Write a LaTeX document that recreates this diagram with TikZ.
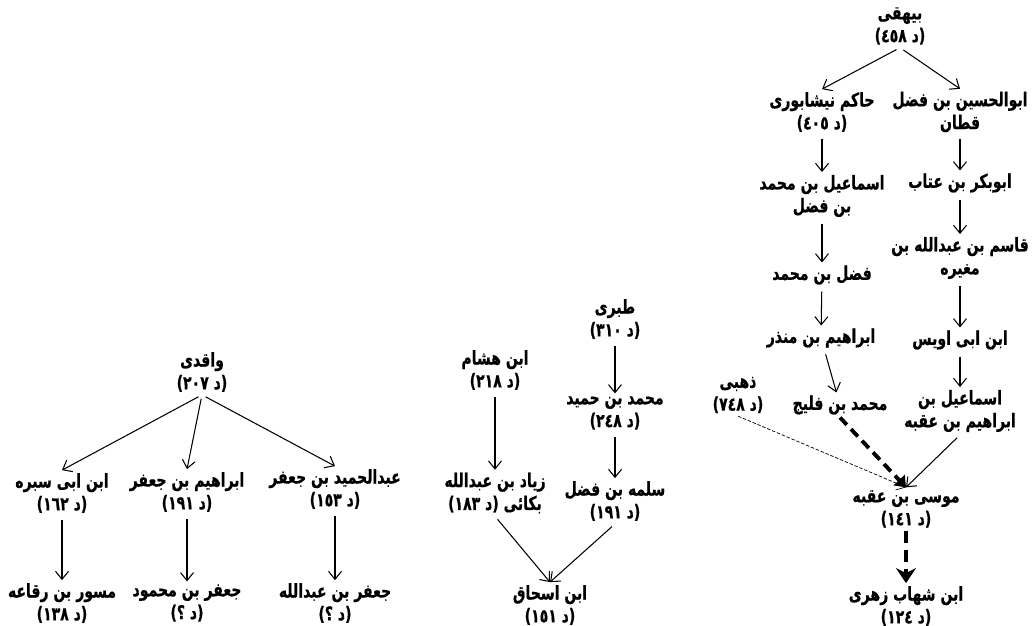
\documentclass[tikz,border=0pt]{standalone}
\usepackage{fontspec}
\newfontfamily\arabicfont[Script=Arabic,FakeStretch=0.74,FakeBold=0.6]{DejaVu Sans}
\TeXXeTstate=1
\usepackage{tikz}
\usetikzlibrary{arrows.meta}
\tikzset{
	narrator/.style={font=\fontsize{10.8}{13}\selectfont\bfseries, align=center, inner sep=1.5pt}
}
\tikzset{
	link/.style={line width=0.6pt, -{Straight Barb[length=1.6mm,width=2.6mm]}, shorten <=0.8mm},
	thinlink/.style={line width=0.4pt, dash pattern=on 2pt off 1pt, -{Straight Barb[length=1.6mm,width=2.6mm]}},
	boldlink/.style={line width=2.2pt, dash pattern=on 2mm off 1.2mm, -{Triangle[length=2mm,width=3mm]}},
	mainlink/.style={line width=2.4pt, dash pattern=on 2.4mm off 1.4mm, -{Stealth[length=3mm,width=4mm,inset=1mm]}}
}
\newcommand{\fatxt}[1]{{\arabicfont\beginR #1\endR}}

\begin{document}
\begin{tikzpicture}[x=0.2mm,y=-0.2mm]
      \useasboundingbox (0,0) rectangle (1033,626);
      % right chain, bayhaqi down to zuhri
      \node[narrator] (bayhaqi) at (900,26) {\fatxt{بیهقی}\\\fatxt{(د ٤٥٨)}};
      \node[narrator] (hakim) at (822,112) {\fatxt{حاکم نیشابوری}\\\fatxt{(د ٤٠٥)}};
      \node[narrator] (qattan) at (960,112) {\fatxt{ابوالحسین بن فضل}\\\fatxt{قطان}};
      \node[narrator] (ismailfazl) at (822,196) {\fatxt{اسماعیل بن محمد}\\\fatxt{بن فضل}};
      \node[narrator] (abubakr) at (960,183) {\fatxt{ابوبکر بن عتاب}};
      \node[narrator] (fazl) at (822,275) {\fatxt{فضل بن محمد}};
      \node[narrator] (qasim) at (960,258) {\fatxt{قاسم بن عبدالله بن}\\\fatxt{مغیره}};
      \node[narrator] (munzir) at (821,338) {\fatxt{ابراهیم بن منذر}};
      \node[narrator] (uways) at (960,340) {\fatxt{ابن ابی اویس}};
      \node[narrator] (fulayh) at (840,405) {\fatxt{محمد بن فلیج}};
      \node[narrator] (dhahabi) at (738,395) {\fatxt{ذهبی}\\\fatxt{(د ٧٤٨)}};
      \node[narrator] (ismailuqba) at (960,411) {\fatxt{اسماعیل بن}\\\fatxt{ابراهیم بن عقبه}};
      \node[narrator] (musa) at (906,509) {\fatxt{موسی بن عقبه}\\\fatxt{(د ١٤١)}};
      \node[narrator] (zuhri) at (906,606) {\fatxt{ابن شهاب زهری}\\\fatxt{(د ١٢٤)}};
      \draw[link] (bayhaqi.south) -- (hakim.north);
      \draw[link] (bayhaqi.south) -- (qattan.north);
      \draw[link] (hakim) -- (ismailfazl);
      \draw[link] (ismailfazl) -- (fazl);
      \draw[link] (fazl) -- (munzir);
      \draw[link] (munzir) -- (fulayh);
      \draw[link] (qattan) -- (abubakr);
      \draw[link] (abubakr) -- (qasim);
      \draw[link] (qasim) -- (uways);
      \draw[link] (uways) -- (ismailuqba);
      \draw[thinlink] (dhahabi.south) -- (musa.north);
      \draw[boldlink] (fulayh.south) -- (musa.north);
      \draw[link] (ismailuqba.south) -- (musa.north);
      \draw[mainlink] (musa) -- (zuhri);
      % middle, tabari and ibn hisham
      \node[narrator] (tabari) at (615,319) {\fatxt{طبری}\\\fatxt{(د ٣١٠)}};
      \node[narrator] (ibnhisham) at (495,370) {\fatxt{ابن هشام}\\\fatxt{(د ٢١٨)}};
      \node[narrator] (ibnhumayd) at (615,413) {\fatxt{محمد بن حمید}\\\fatxt{(د ٢٤٨)}};
      \node[narrator] (ziyad) at (495,493) {\fatxt{زیاد بن عبدالله}\\\fatxt{بکائی (د ١٨٣)}};
      \node[narrator] (salama) at (615,501) {\fatxt{سلمه بن فضل}\\\fatxt{(د ١٩١)}};
      \node[narrator] (ibnishaq) at (550,605) {\fatxt{ابن اسحاق}\\\fatxt{(د ١٥١)}};
      \draw[link] (tabari) -- (ibnhumayd);
      \draw[link] (ibnhumayd) -- (salama);
      \draw[link] (ibnhisham) -- (ziyad);
      \draw[link] (ziyad.south) -- (ibnishaq.north);
      \draw[link] (salama.south) -- (ibnishaq.north);
      % left, waqidi
      \node[narrator] (waqidi) at (202,372) {\fatxt{واقدی}\\\fatxt{(د ٢٠٧)}};
      \node[narrator] (ibnabisabra) at (62,493) {\fatxt{ابن ابی سبره}\\\fatxt{(د ١٦٢)}};
      \node[narrator] (ibrahimjafar) at (187,492) {\fatxt{ابراهیم بن جعفر}\\\fatxt{(د ١٩١)}};
      \node[narrator] (abdulhamid) at (335,489) {\fatxt{عبدالحمید بن جعفر}\\\fatxt{(د ١٥٣)}};
      \node[narrator] (misvar) at (62,603) {\fatxt{مسور بن رقاعه}\\\fatxt{(د ١٣٨)}};
      \node[narrator] (jafarmahmud) at (187,603) {\fatxt{جعفر بن محمود}\\\fatxt{(د ؟)}};
      \node[narrator] (jafarabdullah) at (335,603) {\fatxt{جعفر بن عبدالله}\\\fatxt{(د ؟)}};
      \draw[link] (waqidi.south) -- (ibnabisabra.north);
      \draw[link] (waqidi.south) -- (ibrahimjafar.north);
      \draw[link] (waqidi.south) -- (abdulhamid.north);
      \draw[link] (ibnabisabra) -- (misvar);
      \draw[link] (ibrahimjafar) -- (jafarmahmud);
      \draw[link] (abdulhamid) -- (jafarabdullah);
\end{tikzpicture}
\end{document}
